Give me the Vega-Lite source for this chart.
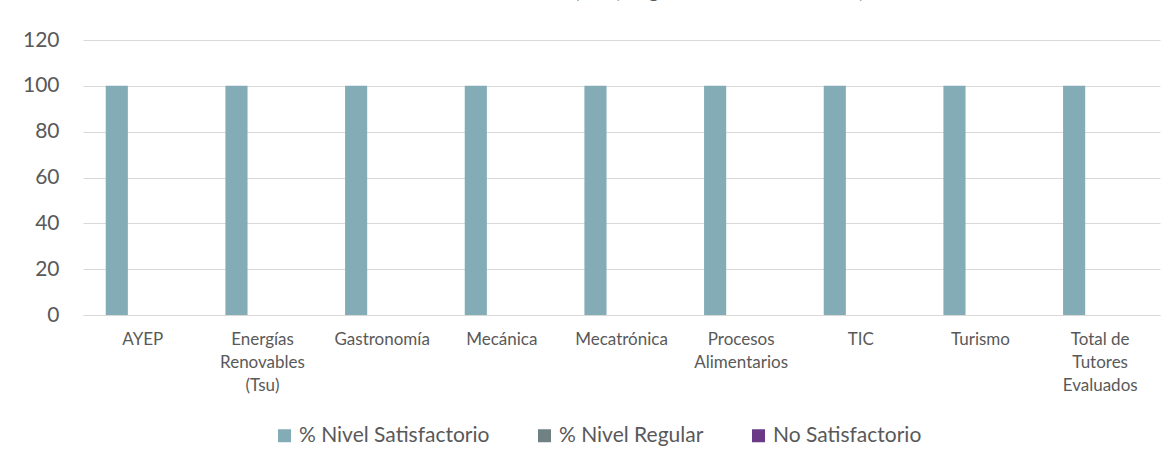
{
  "$schema": "https://vega.github.io/schema/vega-lite/v6.json",
  "autosize": {"type": "none"},
  "width": 1077,
  "height": 275,
  "padding": {"left": 83, "top": 40, "right": 11, "bottom": 151},
  "background": "white",
  "title": {
    "text": "Evaluación de Tutores (TSU) Seguimiento Cuatrimestral)",
    "font": "Lato",
    "fontSize": 20,
    "fontWeight": "normal",
    "color": "#595959",
    "anchor": "middle",
    "baseline": "alphabetic",
    "offset": 11
  },
  "data": {
    "values": [
      {"carrera": "AYEP", "serie": "% Nivel Satisfactorio", "valor": 100},
      {"carrera": "AYEP", "serie": "% Nivel Regular", "valor": 0},
      {"carrera": "AYEP", "serie": "No Satisfactorio", "valor": 0},
      {"carrera": "Energías Renovables (Tsu)", "serie": "% Nivel Satisfactorio", "valor": 100},
      {"carrera": "Energías Renovables (Tsu)", "serie": "% Nivel Regular", "valor": 0},
      {"carrera": "Energías Renovables (Tsu)", "serie": "No Satisfactorio", "valor": 0},
      {"carrera": "Gastronomía", "serie": "% Nivel Satisfactorio", "valor": 100},
      {"carrera": "Gastronomía", "serie": "% Nivel Regular", "valor": 0},
      {"carrera": "Gastronomía", "serie": "No Satisfactorio", "valor": 0},
      {"carrera": "Mecánica", "serie": "% Nivel Satisfactorio", "valor": 100},
      {"carrera": "Mecánica", "serie": "% Nivel Regular", "valor": 0},
      {"carrera": "Mecánica", "serie": "No Satisfactorio", "valor": 0},
      {"carrera": "Mecatrónica", "serie": "% Nivel Satisfactorio", "valor": 100},
      {"carrera": "Mecatrónica", "serie": "% Nivel Regular", "valor": 0},
      {"carrera": "Mecatrónica", "serie": "No Satisfactorio", "valor": 0},
      {"carrera": "Procesos Alimentarios", "serie": "% Nivel Satisfactorio", "valor": 100},
      {"carrera": "Procesos Alimentarios", "serie": "% Nivel Regular", "valor": 0},
      {"carrera": "Procesos Alimentarios", "serie": "No Satisfactorio", "valor": 0},
      {"carrera": "TIC", "serie": "% Nivel Satisfactorio", "valor": 100},
      {"carrera": "TIC", "serie": "% Nivel Regular", "valor": 0},
      {"carrera": "TIC", "serie": "No Satisfactorio", "valor": 0},
      {"carrera": "Turismo", "serie": "% Nivel Satisfactorio", "valor": 100},
      {"carrera": "Turismo", "serie": "% Nivel Regular", "valor": 0},
      {"carrera": "Turismo", "serie": "No Satisfactorio", "valor": 0},
      {"carrera": "Total de Tutores Evaluados", "serie": "% Nivel Satisfactorio", "valor": 100},
      {"carrera": "Total de Tutores Evaluados", "serie": "% Nivel Regular", "valor": 0},
      {"carrera": "Total de Tutores Evaluados", "serie": "No Satisfactorio", "valor": 0}
    ]
  },
  "mark": {"type": "bar"},
  "encoding": {
    "x": {
      "field": "carrera",
      "type": "nominal",
      "sort": null,
      "scale": {"paddingInner": 0.38, "paddingOuter": 0.19},
      "axis": {
        "title": null,
        "labelAngle": 0,
        "labelFont": "Lato",
        "labelFontSize": 17,
        "labelColor": "#595959",
        "labelLineHeight": 23,
        "labelPadding": 24,
        "labelBaseline": "middle",
        "labelLimit": 200,
        "ticks": false,
        "domainColor": "#d9d9d9",
        "domainWidth": 1,
        "labelExpr": "datum.value == 'Energías Renovables (Tsu)' ? ['Energías', 'Renovables', '(Tsu)'] : datum.value == 'Procesos Alimentarios' ? ['Procesos', 'Alimentarios'] : datum.value == 'Total de Tutores Evaluados' ? ['Total de', 'Tutores', 'Evaluados'] : datum.value"
      }
    },
    "xOffset": {
      "field": "serie",
      "type": "nominal",
      "sort": ["% Nivel Satisfactorio", "% Nivel Regular", "No Satisfactorio"],
      "scale": {"paddingInner": 0.15}
    },
    "y": {
      "field": "valor",
      "type": "quantitative",
      "scale": {"domain": [0, 120]},
      "axis": {
        "title": null,
        "values": [0, 20, 40, 60, 80, 100, 120],
        "labelFont": "Lato",
        "labelFontSize": 21,
        "labelColor": "#595959",
        "labelPadding": 24,
        "ticks": false,
        "domain": false,
        "gridColor": "#d9d9d9",
        "gridWidth": 1
      }
    },
    "color": {
      "field": "serie",
      "type": "nominal",
      "sort": ["% Nivel Satisfactorio", "% Nivel Regular", "No Satisfactorio"],
      "scale": {
        "domain": ["% Nivel Satisfactorio", "% Nivel Regular", "No Satisfactorio"],
        "range": ["#84acb6", "#6f8183", "#6b3a87"]
      },
      "legend": {
        "title": null,
        "orient": "none",
        "legendX": 191,
        "legendY": 385,
        "direction": "horizontal",
        "symbolType": "square",
        "symbolSize": 169,
        "symbolStrokeWidth": 0,
        "labelFont": "Lato",
        "labelFontSize": 21,
        "labelColor": "#595959",
        "labelOffset": 4,
        "labelLimit": 400,
        "columnPadding": 44
      }
    }
  },
  "config": {
    "view": {"stroke": null},
    "axis": {"gridColor": "#d9d9d9"}
  }
}
